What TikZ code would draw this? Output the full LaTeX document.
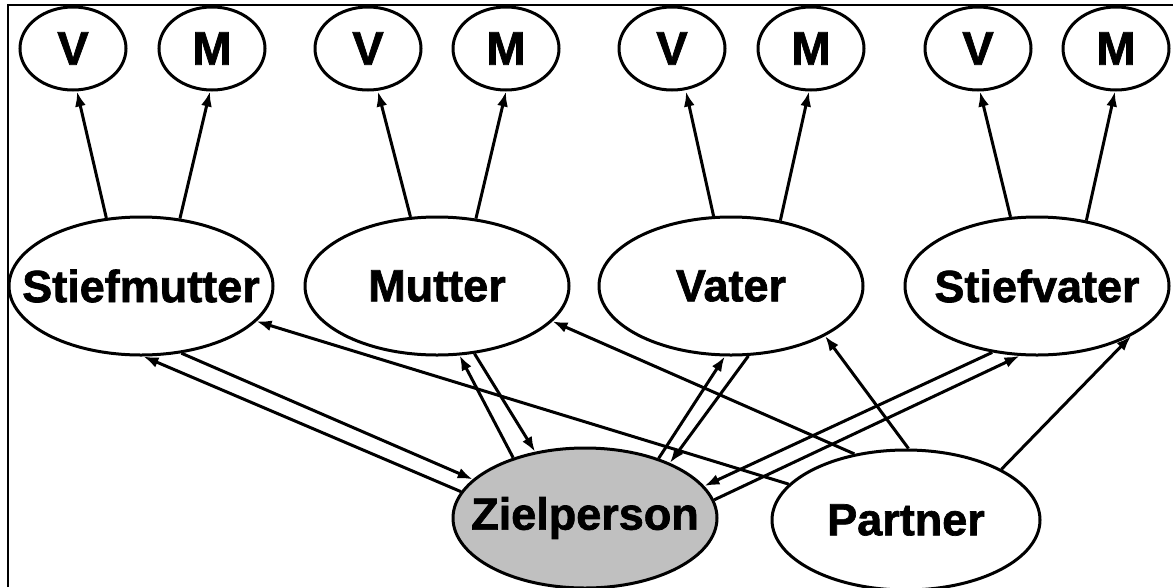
\documentclass[tikz,border=0pt]{standalone}
\usepackage{fontspec}
\setmainfont{Liberation Sans}[BoldFeatures={FakeBold=1.5}]
\usetikzlibrary{shapes.geometric,arrows.meta}
\tikzset{
  smallell/.style={ellipse, draw, line width=3pt, minimum width=106pt, minimum height=83pt, inner sep=0pt, font=\fontsize{47}{47}\selectfont\bfseries},
  bigell/.style={ellipse, draw, line width=3pt, minimum width=264pt, minimum height=138pt, inner sep=0pt, font=\fontsize{45}{45}\selectfont\bfseries},
  conn/.style={line width=3pt, -{Latex[length=15pt,width=11pt]}},
  frameline/.style={line width=2.5pt},
}
\begin{document}
\begin{tikzpicture}[x=1pt,y=-1pt]
\useasboundingbox (0,0) rectangle (1173,587);
\fill[white] (0,0) rectangle (1173,587);
\draw[frameline] (8,587) -- (8,5) -- (1173,5);

% top row
\node[smallell] (V1) at (73,48.5) {\raisebox{-3pt}{V}};
\node[smallell] (M1) at (212,48.5) {\raisebox{-3pt}{M}};
\node[smallell] (V2) at (368,48.5) {\raisebox{-3pt}{V}};
\node[smallell] (M2) at (506,48.5) {\raisebox{-3pt}{M}};
\node[smallell] (V3) at (672,48.5) {\raisebox{-3pt}{V}};
\node[smallell] (M3) at (811,48.5) {\raisebox{-3pt}{M}};
\node[smallell] (V4) at (978,48.5) {\raisebox{-3pt}{V}};
\node[smallell] (M4) at (1116,48.5) {\raisebox{-3pt}{M}};

% middle row
\node[bigell] (Stiefmutter) at (141,286) {\makebox[0pt]{Stiefmutter}};
\node[bigell] (Mutter) at (437,286) {\makebox[0pt]{Mutter}};
\node[bigell] (Vater) at (731,286) {\makebox[0pt]{Vater}};
\node[bigell] (Stiefvater) at (1037,286) {\makebox[0pt]{Stiefvater}};

% bottom row
\node[bigell, fill={rgb,255:red,192;green,192;blue,192}, minimum height=140pt] (Zielperson) at (585,518) {\makebox[0pt]{Zielperson}};
\node[bigell, minimum width=268pt, minimum height=140pt] (Partner) at (906,520) {\makebox[0pt]{Partner}};

% upward arrows to V/M
\draw[conn] (Stiefmutter.117) -- ([xshift=4pt]V1.south);
\draw[conn] (Stiefmutter.60.8) -- ([xshift=-2pt]M1.south);
\draw[conn] (Mutter.111) -- ([xshift=10pt]V2.south);
\draw[conn] (Mutter.60.8) -- (M2.south);
\draw[conn] (Vater.104) -- ([xshift=14pt]V3.south);
\draw[conn] (Vater.53.3) -- ([xshift=-2pt]M3.south);
\draw[conn] (Stiefvater.111.8) -- ([xshift=2pt]V4.south);
\draw[conn] (Stiefvater.53.3) -- ([xshift=-1pt]M4.south);

% Zielperson <-> parents
\draw[conn] (Zielperson.168.3) -- (Stiefmutter.-88.3);
\draw[conn] (Stiefmutter.-59.4) -- (Zielperson.161.7);
\draw[conn] (Zielperson.140.8) -- (Mutter.-72.1);
\draw[conn] (Mutter.-61.5) -- (Zielperson.127.7);
\draw[conn] (Zielperson.39.2) -- (Vater.-95.8);
\draw[conn] (Vater.-76) -- (Zielperson.33.8);
\draw[conn] (Stiefvater.-124.7) -- (Zielperson.15.5);
\draw[conn] (Zielperson.8.6) -- (Stiefvater.-104);

% Partner -> parents
\draw[conn] (Partner.163.2) -- (Stiefmutter.-17);
\draw[conn] (Partner.128.2) -- (Mutter.-17);
\draw[conn] (Partner.88) -- (Vater.-28.8);
\draw[conn] (Partner.28) -- (Stiefvater.-28.3);
\end{tikzpicture}
\end{document}
